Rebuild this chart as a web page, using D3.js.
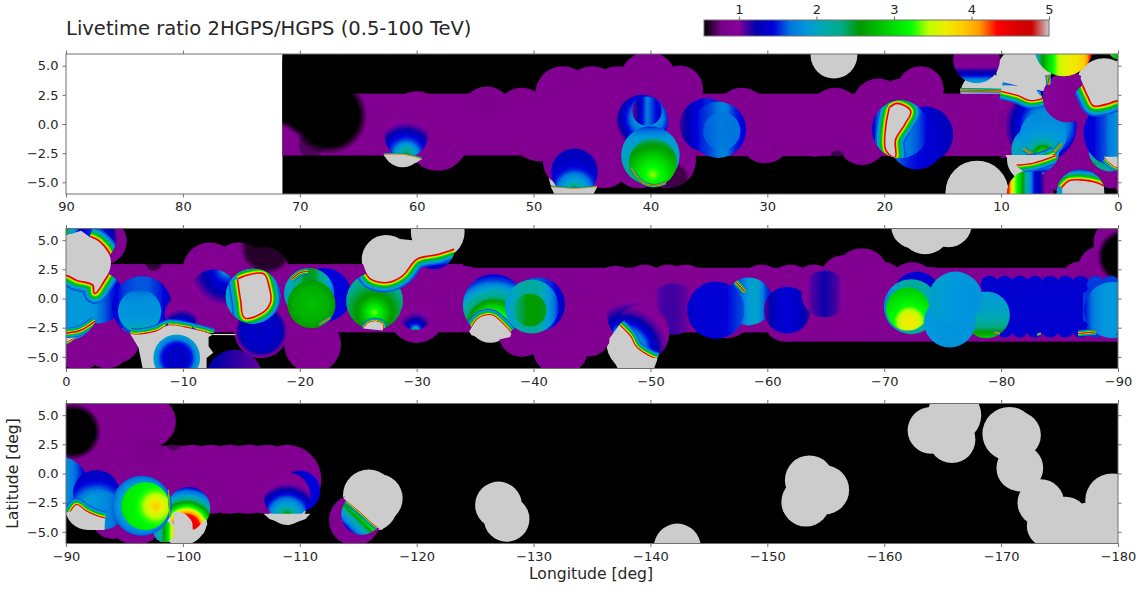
<!DOCTYPE html>
<html>
<head>
<meta charset="utf-8">
<title>Livetime ratio</title>
<script src="https://cdn.jsdelivr.net/npm/d3@7"></script>
<style>
	html, body { margin: 0; padding: 0; background: #fff; }
	text { font-family: "DejaVu Sans"; fill: #262626; }
</style>
</head>
<body>
<svg id="map" width="1146" height="592"></svg>
<script>
"use strict";

//longitude range of each row, left to right
let panel_ranges = [[90, 0], [0, -90], [-90, -180]];
let lat_range = [-6, 6];
let data_edge = 71.5;
let lat_ticks = [-5, -2.5, 0, 2.5, 5];
let lon_ticks = [
	[90, 80, 70, 60, 50, 40, 30, 20, 10, 0],
	[0, -10, -20, -30, -40, -50, -60, -70, -80, -90],
	[-90, -100, -110, -120, -130, -140, -150, -160, -170, -180]];
let bar_ticks = [1, 2, 3, 4, 5];
let bar_range = [0.55, 5];

//nipy_spectral stops
let cmap_stops = [0, .05, .1, .15, .2, .25, .3, .35, .4, .45, .5, .55, .6, .65, .7, .75, .8, .85, .9, .95, 1];
let cmap_colors = ["#000000", "#770088", "#880099", "#0000aa", "#0000dd", "#0077dd", "#0099dd", "#00aaaa", "#00aa88",
	"#009900", "#00bb00", "#00dd00", "#00ff00", "#bbff00", "#eeee00", "#ffcc00", "#ff9900", "#ff0000", "#dd0000", "#cc0000", "#cccccc"];
let ratio_same = 0.9;

//lon, lat, radius of the fields with no old exposure
let gray_disks = [
	[61.2, -2, 1.7], [46.5, -4.4, 2.2], [24.3, 5.9, 2], [12.06, -5.85, 2.7], [11.5, 2.5, 2], [8.07, 4.34, 2.34], [1.2, 3.2, 2.43],
	[-1.34, 3.34, 2.45], [7.5, -3, 2], [-27.4, 3.34, 2.1], [-31.8, 5.7, 2.3], [-36.3, -2, 1.8], [-30, -2.2, 1.1], [-48.6, -3.86, 2.35],
	[-73.5, 6, 2.2], [-75.5, 6.4, 2], [-72.5, 6.2, 1.9], [-91.9, -2.84, 2], [-99.9, -4, 2.15], [-108.9, -2.7, 1.7],
	[-115.9, -1.86, 2.2], [-116.7, -2.14, 2.1], [-116.3, -2.9, 2], [-127, -2.7, 2], [-127.7, -3.9, 1.95], [-142.3, -6.3, 2],
	[-153.6, -0.56, 2.1], [-154.9, -1.4, 2.1], [-153.3, -2.44, 2.1], [-164, 3.7, 2], [-165.8, 2.9, 2], [-166, 5, 2.3],
	[-170.7, 3.4, 2.3], [-171.4, 3.3, 2], [-171.6, 0.47, 2], [-173.4, -2.5, 2], [-175.5, -4, 2], [-174, -4.5, 1.8], [-177.5, -4.7, 2.2],
	[-179.5, -2.3, 2.3], [-179.5, -5, 2.5], [-176, -5.5, 2]];

//lon start, lon end, lat low, lat high of the survey strip
let purple_bands = [
	[71.5, 36, -2.7, 2.6], [36, 10, -2.75, 2.6], [10, -1, -2.9, 2.6], [-1, -34, -2.9, 2.95], [-34, -61.5, -2.9, 2.63],
	[-61.5, -90, -3.7, 2.63], [-90, -108, -2.9, 2.2], [-90, -97, 2, 6.2]];
let purple_disks = [
	[60, 0.5, 2.3], [58.2, -1.4, 2.6], [54, 1, 2.2], [51, 0.9, 2.2], [49.5, -0.8, 2.4], [47.5, 2.6, 2.35], [45, 2.6, 2.35], [42.8, 2.6, 2.35],
	[40.2, 3.8, 2.4], [37.5, 3, 2], [47, -3.2, 2.2], [44, -3.2, 2.3], [41, -3.2, 2.3], [38.5, -3.1, 2.4], [32.2, 0.9, 2.2], [24.2, 0.9, 2.2],
	[30.2, -1.1, 2.25], [26, -0.9, 1.9], [21.9, -1.3, 2.2], [20.5, 1.7, 2.2], [16.9, 2.95, 2], [18.5, 1.9, 2], [14.8, 0.5, 2.1],
	[3.5, 0, 2.2], [3, -2, 2.2], [4.5, -4, 1.9], [2.5, -3.5, 2], [0.5, -3.5, 2], [-3.2, 4.9, 2], [-3.5, -4, 2], [-1.2, -4.3, 1.9], [-4.4, -3.6, 1.9],
	[-12.3, 2.5, 2.3], [-14.8, 2.5, 2.3], [-17, 2.3, 2.1], [-21.1, -3.95, 2.43], [-30, -1.4, 2.4], [-34, 0.6, 2.2], [-39, -3, 2], [-42.3, -4.2, 2.4],
	[-44.8, -3.2, 1.75], [-46.2, -2.2, 1.7], [-47, 0.8, 2], [-49.5, 0.9, 2], [-51.5, 0.9, 2], [-53, 0.9, 2], [-56.5, -1, 2.4], [-59.5, 1, 1.9],
	[-61.5, -1.9, 1.8], [-62, 0.9, 2], [-64, 0.9, 2], [-66.5, 1.7, 2], [-68.1, 2, 2.3], [-70, 1.5, 1.6], [-72.4, 0.9, 2.2], [-74, 0.7, 2], [-86.8, 1.5, 1.7],
	[-88.5, 2.6, 1.9], [-89.9, 4.8, 2], [-97.2, 4.44, 2.2], [-96, -3.5, 2.6], [-94, -3.7, 1.9],
	[-96, -0.5, 2.95], [-97.6, -0.5, 2.95], [-99.2, -0.5, 2.95], [-100.8, -0.5, 2.95], [-102.4, -0.5, 2.95], [-104, -0.5, 2.95],
	[-105.6, -0.5, 2.95], [-107.2, -0.5, 2.95], [-108.9, -0.5, 2.95], [-114.7, -4, 2.2]];

//lon, lat, radius, strength of the soft low exposure patches
let dark_patches = [
	[67.5, 0.7, 3.3, 1], [71.5, 2.9, 3.2, 1], [69.5, 1.6, 2.6, 1], [69, -1.8, 1.2, 0.4], [54, 1.9, 1.2, 0.05], [24, -2.9, 0.7, 0.5], [38, -4.6, 1.3, 0.5],
	[-7.5, 3.1, 0.8, 0.6], [-17.2, 4.4, 2.3, 0.7], [-90.6, 3.6, 2.4, 1], [-97, 2, 1.5, 0.05], [-99.2, 2.6, 0.7, 0.4]];

//lon start, lon end, lat low, lat high, ratio of the blue strip
let tint_bands = [[-78.5, -87, -2.7, 1.3, 1.38], [-87, -90, -2.7, 1.3, 1.55]];
//lon, lat of the tiles on that strip, the outer rows give the scalloped edge
let tint_tiles = [
	[-79, 1.2], [-80.3, 1.2], [-81.6, 1.2], [-82.9, 1.2], [-84.2, 1.2], [-85.5, 1.2], [-86.8, 1.2], [-88.1, 1.2], [-89.4, 1.2],
	[-79, -2.6], [-80.3, -2.6], [-81.6, -2.6], [-82.9, -2.6], [-84.2, -2.6], [-85.5, -2.6], [-86.8, -2.6], [-88.1, -2.6], [-89.4, -2.6]];
let light_tiles = [
	[-80.8, -0.8], [-82.4, -1.6], [-84, -0.7], [-85.6, -1.7], [-82.6, 0.1], [-85.6, 0.6], [-87.6, 0.4], [-81.6, -2.2], [-83.4, -2.4], [-85.2, -2.2]];

//lon, lat, radius, gradient angle (null is radial), ratios along the gradient, radial centre and reach
let ratio_disks = [
	[60.9, -1, 1.85, null, [2.6, 2.1, 1.6, 1.35, 1.1, 0.92, 0.9], [0.5, 0.95, 1]],
	[46.5, -4.1, 2, null, [3, 2.1, 1.8, 1.5, 1.35, 1.3, 1.3], [0.5, 0.9, 0.9]],
	[40.7, 0.3, 2.2, null, [1.95, 1.9, 1.7, 1.4, 1.1, 0.95], [0.6, 0.45, 0.75]],
	[40.3, 1.1, 1.25, 0, [1, 1.3, 1.7, 1.5, 1.3]],
	[40, -2.7, 2.5, 90, [1.5, 1.9, 2, 2, 2.2, 2.4]],
	[39.8, -3.3, 2.05, null, [3.4, 3.2, 3, 2.75, 2.5, 2.3], [0.5, 0.75, 0.8]],
	[35.2, -0.1, 2.3, 0, [1.1, 1.35, 1.5, 1.5, 1.5]],
	[34.2, -0.5, 2.4, 0, [1.35, 1.5, 1.6, 1.75, 1.5, 1.4]],
	[33.9, -0.6, 1.6, 0, [1.6, 1.68, 1.65]],
	[16.5, -0.9, 2.4, 0, [1.9, 1.5, 1.4, 1.3, 1.3]],
	[17.2, -1.6, 2.3, 0, [1.7, 1.5, 1.4, 1.35]],
	[18.6, -0.45, 2.45, 0, [1.3, 1.9, 1.9, 1.7, 1.6, 1.4]],
	[12.1, 5.5, 2, 90, [0.9, 0.9, 0.9, 0.9, 1.3, 2]],
	[6.6, -0.2, 3.05, null, [1.9, 1.85, 1.7, 1.4, 1.1, 0.92], [0.6, 0.5, 0.7]],
	[7.07, -2.23, 2.05, 90, [1.4, 1.8, 2, 2, 1.8, 1.4]],
	[6.4, -0.95, 2, null, [3.5, 2.8, 2.1, 1.9, 1.85, 1.8], [0.5, 0.95, 0.8]],
	[4.3, 2.3, 2.15, 0, [1, 0.9, 0.9]],
	[7.5, -5.95, 2, 0, [4.6, 3.5, 2.9, 2.1, 1.5, 1.2, 0.95, 0.9]],
	[3.2, -5.95, 2.05, 90, [1.5, 1.9, 2, 2, 2]],
	[-2.34, 5.2, 2, 0, [1.3, 1.4, 1.5, 1.6, 1.4, 1.1]],
	[0.66, -2.2, 1.86, 90, [1.7, 1.5, 1.6, 1.9, 2.4, 2.1]],
	[-2.77, 0.06, 2.2, 0, [1.9, 1.9, 1.7, 1.5, 1.35]],
	[0.1, -0.8, 2.85, 0, [1.4, 1.45, 1.6, 1.85, 1.9, 1.9, 1.8]],
	[-6.5, -0.66, 2.57, 0, [1.35, 1.55, 1.6, 1.6, 1.5, 1.25]],
	[-6.3, -1.1, 1.85, 90, [1.6, 1.8, 1.85, 1.85, 1.95, 2.3]],
	[-9.9, -1.3, 1.45, null, [2.2, 1.7, 1.35, 1.1, 0.92, 0.9], [0.5, 1, 0.9]],
	[-12.6, 0.48, 2, null, [2.1, 1.6, 1.4, 1.25, 1.1, 0.95, 0.9], [0.8, 0, 1]],
	[-16.7, -2.8, 2.3, null, [1.3, 1.35, 1.35, 1.3, 0.95], [0.5, 0.5, 0.5]],
	[-16, 0.2, 2.35, 0, [2, 1.9, 1.9, 1.9, 2, 2]],
	[-22.1, 0.3, 2.3, 0, [1.3, 1.45, 1.45, 1.45, 1.4]],
	[-20.8, 0.45, 2.15, 0, [2, 2.1, 2.5, 2.5, 2.2, 1.6]],
	[-21, -0.5, 2.05, null, [2.8, 2.75, 2.7, 2.55], [0.5, 0.5, 0.5]],
	[-26.4, -0.23, 2.43, null, [3.4, 3, 2.6, 2.45, 2.3, 2.1, 1.6, 1.3], [0.5, 0.7, 1]],
	[-31.5, 4.2, 1.7, 90, [1.2, 1.3, 1.5, 1.8, 1.6, 1.3]],
	[-29.9, -1.4, 1.3, null, [2.6, 1.6, 1.3, 1.1, 1, 0.92, 0.9], [0.5, 1, 0.9]],
	[-36.6, -0.57, 2.65, null, [4.4, 3.8, 3.2, 2.8, 2.3, 2, 1.6, 1.4], [0.5, 0.85, 0.85]],
	[-40.4, -0.5, 2.3, 0, [1.6, 1.6, 1.6, 1.5, 1.3]],
	[-39.85, -0.7, 2.3, 0, [1.9, 2.05, 2.2, 2.2, 1.9, 1.5]],
	[-39.7, -1, 1.4, 0, [2.3, 2.6, 2.5]],
	[-52, -0.9, 2.2, 0, [0.9, 1.1, 1.12, 1.05, 0.9]],
	[-48.5, -1.5, 2.2, null, [2, 1.7, 1.5, 1.3, 1.1, 0.95, 0.9], [0.45, 1, 1]],
	[-49.2, -3, 2.4, null, [2.6, 2.2, 1.8, 1.4, 1.1, 0.95, 0.9], [0.2, 0.8, 1]],
	[-58.4, -0.25, 2.05, 0, [1.4, 1.5, 1.6, 1.9, 2, 1.6, 1.4]],
	[-55.6, -1, 2.45, 0, [1.35, 1.4, 1.4, 1.4, 1.5, 1.6]],
	[-61.7, -1, 2, 0, [1.05, 1.3, 1.4, 1.4, 1.3, 1.1]],
	[-64.9, 0.4, 2, 0, [0.9, 1.1, 1.2, 1.1, 0.9]],
	[-72.8, 0.3, 2, 0, [1.4, 1.4, 1.4]],
	[-72.3, -0.7, 2.35, 0, [1.7, 1.95, 2.2, 2.2, 2.1, 2]],
	[-72, -0.9, 1.85, null, [3.7, 3.65, 3.5, 3.2, 3.1, 3, 2.9], [0.55, 0.8, 0.75]],
	[-78.75, -1.4, 2, 90, [1.9, 1.95, 2, 2.1, 2.4, 2.9]],
	[-75.6, -2, 2.2, 0, [1.9, 1.85, 1.85, 1.85]],
	[-76.1, 0, 2.3, 0, [2, 1.9, 1.85, 1.85]],
	[-89.5, -1, 2.4, 0, [1.45, 1.75, 1.9, 1.85, 1.6, 1.3]],
	[-92.6, -1.7, 2, null, [3.4, 2.5, 2, 1.7, 1.5, 1.35, 1.3], [0.5, 0.9, 0.9]],
	[-93.3, -3.2, 1.6, 0, [1.9, 1.8, 1.5]],
	[-100.5, -3, 1.85, null, [4.6, 4.5, 4.3, 3.3, 2.4, 1.8, 1.4], [0.45, 0.95, 0.95]],
	[-98.4, -5, 0.9, 0, [1.9, 2.2, 3, 4]],
	[-96.48, -2.76, 2.57, null, [2.9, 3, 2.5, 1.9, 1.6], [0.5, 0.5, 0.5]],
	[-96.8, -2.8, 2.05, null, [3.9, 3.6, 3.3, 3.15, 3.1, 3], [0.72, 0.5, 0.8]],
	[-110, -1.5, 1.75, 0, [1.1, 1.3, 1.4, 1.45]],
	[-108.9, -1.9, 2, null, [2.9, 2.2, 1.8, 1.4, 1.05, 0.92, 0.9], [0.5, 0.95, 1]],
	[-115.3, -3.5, 1.75, 135, [4.6, 4.6, 4.6, 4.3, 3, 2.2, 1.8, 1.4]]];

//drawn over the fronts below
let top_disks = [
	[4.65, 6.6, 2.5, 0, [1.9, 2.6, 3.1, 3.5, 3.65, 3.7, 3.9, 4.5]],
	[-0.2, 6.6, 1.1, 0, [3.5, 2.8, 1.9, 1.5]],
	[-9.47, -5.09, 2, null, [1.4, 1.3, 1.5, 2], [0.5, 0.5, 0.5]],
	[-14.4, -6.8, 2.4, 0, [1.25, 1.15, 1.05]]];

//steep edges: band scale, clip disks, edge points, points that close the no exposure hole
let fronts = [
	[0.1, null, [[62.8, -2.65], [61, -2.65], [59.6, -3]], [[60, -3.3], [61.2, -3.65], [62.4, -3.2]]],
	[0.08, null, [[48.5, -5.4], [46.5, -5.55], [44.6, -5.4]], [[45, -6.3], [48.1, -6.3]]],
	[0.1, null, [[41.6, -3.8], [40.8, -4.9], [39.8, -5.3], [38.7, -5.05]], null],
	[0.6, [[18.6, -0.45, 2.45]], [[19.5, 1.37], [18.9, 1.7], [17.8, 1.1], [18.3, 0], [19.1, -1.35], [19.1, -2.8], [19.8, -2.2], [19.8, -0.2], [19.5, 1.37]], []],
	[0.12, null, [[13.5, 2.9], [10, 2.85]], null],
	[0.5, null, [[10, 2.85], [8.6, 2.5], [7.5, 2.06], [6.5, 2.2]], [[7.2, 3.2], [9, 3.3], [10, 3.3]]],
	[0.15, null, [[6, 4.2], [5.9, 3.4]], null],
	[0.14, null, [[8.07, -2.1], [6.36, -2.95], [4.8, -1.66]], null],
	[0.5, [[7.07, -2.23, 2.05]], [[9.07, -3.5], [7.2, -3.29], [5.36, -2.66]], [[9.64, -2.66]]],
	[0.65, [[3.2, -5.95, 2.05]], [[4.77, -5.5], [4.2, -4.95], [3.2, -4.86], [1.8, -5.1], [1.2, -5.4]], [[1.2, -6.1], [4.77, -6.1]]],
	[0.25, [[0.66, -2.2, 1.86]], [[1.08, -2.95], [0.09, -3.7], [-0.77, -3.3]], [[0, -2.8], [1.2, -2.8]]],
	[0.3, [[0.1, -0.8, 2.85]], [[0, -2.95], [-1.2, -2.75], [-2.48, -1.95]], null],
	[0.65, [[0.1, -0.8, 2.85], [-2.77, 0.06, 2.2], [-2.34, 5.2, 2], [1.5, 1.2, 2.6]],
		[[3.2, 3.9], [2.5, 2.34], [2.08, 1.63], [0.94, 1.77], [0, 2.05], [-0.9, 1.63], [-2.34, 1.2], [-2.48, 0.5], [-3.2, 1.5],
		[-3.76, 2.5], [-3.76, 3.6], [-2.76, 4.9], [-2.05, 5.25]], [[-1.3, 5.8], [0.5, 5.3], [2, 5.3], [3, 4.7]]],
	[0.25, [[-6.5, -0.66, 2.57]], [[-4.6, -2.8], [-6.05, -4.09]], null],
	[0.35, [[-6.5, -0.66, 2.57], [-9.9, -1.3, 1.45], [-12.6, 0.48, 3.4]], [[-5.5, -3.05], [-6.2, -3.09], [-7.76, -2.8], [-8.75, -2.32], [-10.6, -2.57], [-12.6, -3.09]],
		[[-12.2, -3.3], [-12.2, -4.1], [-12.6, -4.66], [-12.03, -5.1], [-12.03, -6.2], [-6.6, -6.2], [-6.2, -4.2]]],
	[0.6, [[-16, 0.2, 2.35]], [[-14.74, 1.63], [-15.45, 1.91], [-16.88, 2.05], [-17.3, 1.05], [-17.45, -0.23], [-16.88, -1.09], [-15.31, -1.6],
		[-15.02, -0.23], [-14.88, 0.63], [-14.74, 1.63]], []],
	[0.2, [[-20.8, 0.45, 2.15]], [[-19.3, 1.63], [-20, 2.2], [-20.7, 2.34]], null],
	[0.1, null, [[-21.7, -2.2], [-22.6, -1.66]], null],
	[0.2, [[-26.4, -0.23, 2.43]], [[-25.43, -2.57], [-25.86, -2.1], [-26.43, -1.95], [-27.1, -2.23], [-27.1, -2.75]], []],
	[0.6, [[-26.4, -0.23, 2.43], [-31.5, 4.2, 1.7], [-28.8, 2.2, 2.1]], [[-25.6, 2.43], [-26.1, 1.71], [-27.5, 1.43], [-28.75, 2], [-30, 3.43], [-31.9, 3.86], [-33.6, 4.43]],
		[[-34, 5.2], [-32, 6.5], [-30, 6.4], [-29.6, 5], [-28.6, 5.1], [-26.6, 5.3], [-25.5, 4.2], [-25.4, 3]]],
	[0.35, [[-36.6, -0.57, 2.65]], [[-34.5, -2.86], [-35.3, -1.7], [-36.4, -1.43], [-37.5, -2.3], [-38.1, -3]], [[-38, -3.3], [-36.4, -3.66], [-34.7, -3.14]]],
	[0.4, [[-48.5, -1.5, 2.2], [-49.2, -3, 2.4]], [[-47.34, -2.29], [-48.3, -3.29], [-48.75, -4.14], [-50, -5], [-50.6, -5.2]],
		[[-50.2, -6.3], [-47.4, -6.3], [-46.4, -4.6], [-46.5, -3.4]]],
	[0.2, [[-58.4, -0.25, 2.05]], [[-57.3, 1.43], [-58.1, 0.57]], null],
	[0.18, null, [[-86.6, -3], [-88.1, -2.86]], null],
	[0.08, null, [[-83.1, -3.1], [-83.4, -3]], null],
	[0.1, null, [[-79.4, -2.9], [-79.9, -3]], null],
	[0.4, [[-92.6, -1.7, 2], [-93.3, -3.2, 1.6], [-89.5, -1, 2.4]], [[-90.35, -3.4], [-90.9, -2.7], [-91.77, -3.27], [-92.77, -3.7], [-93.34, -3.84]],
		[[-93.3, -4.85], [-91.9, -4.85], [-90.6, -4]]],
	[0.04, null, [[-98.76, -1.4], [-98.9, -3.7]], null],
	[0, null, [[-99.2, -3.27], [-100.06, -3.41], [-100.77, -4.13], [-100.9, -4.84], [-101.47, -4.41], [-101.95, -3.93]],
		[[-102.1, -4.3], [-101.8, -5.1], [-100.9, -5.85], [-99.2, -5.85]]],
	[0, null, [[-106.9, -3.45], [-110.9, -3.45]], [[-110.5, -3.9], [-109, -4.43], [-107.4, -3.9]]],
	[0.2, [[-115.3, -3.5, 1.75]], [[-113.75, -2.14], [-115.16, -3.29], [-116.25, -4.29], [-117, -4.86]], [[-117.7, -3.9], [-117.5, -2], [-115.5, -1.5], [-114.1, -1.6]]]];

//thin white seams at the edge of the strip
let white_edges = [[[-12.6, -3.09], [-14.5, -3.1]]];

//ratio and half width in degrees of each nested stroke of a front, widest first
let front_ratios = [1.6, 1.9, 2.1, 2.4, 2.8, 3.2, 3.6, 4, 4.4, 4.7];
let front_widths = [1.5, 1.25, 1, 0.85, 0.7, 0.55, 0.42, 0.34, 0.22, 0.08];

let svg = d3.select("svg#map");
let defs = svg.append("defs");

let panel_left = 66, panel_right = 1118, panel_height = 140;
let panel_tops = [54, 228.5, 403.5];
let px_per_deg = (panel_right - panel_left) / 90;
let axis_color = "#707070", text_color = "#262626";

//ratio to colour
let frac = d3.scaleLinear().domain(bar_range).range([0, 1]).clamp(true);
let cmap_frac = d3.scaleLinear().domain(cmap_stops).range(cmap_colors).interpolate(d3.interpolateRgb);
function cmap(v) { return cmap_frac(frac(v)); }

svg.append("filter").attr("id", "soft")
	.attr("x", "-2%").attr("y", "-5%").attr("width", "104%").attr("height", "110%")
	.append("feGaussianBlur").attr("stdDeviation", 0.55);

//one gradient per disk, each step split so it follows the colour table
function add_gradient(id, disk)
{
	let angle = disk[3], vals = disk[4], grad;
	if (angle === null)
	{
		let centre = disk[5];
		grad = defs.append("radialGradient").attr("id", id)
			.attr("cx", centre[0]).attr("cy", centre[1]).attr("r", centre[2])
			.attr("fx", centre[0]).attr("fy", centre[1]);
	}
	else
	{
		let a = angle * Math.PI / 180;
		grad = defs.append("linearGradient").attr("id", id)
			.attr("x1", 0.5 - Math.cos(a) / 2).attr("y1", 0.5 - Math.sin(a) / 2)
			.attr("x2", 0.5 + Math.cos(a) / 2).attr("y2", 0.5 + Math.sin(a) / 2);
	}
	let n = Math.max(vals.length - 1, 1);
	for (let i = 0; i < vals.length; ++i)
	{
		for (let j = 0; j < 6; ++j)
		{
			if (i === n && j > 0) break;
			let next = vals[Math.min(i + 1, n)];
			grad.append("stop")
				.attr("offset", (i + j / 6) / n)
				.attr("stop-color", cmap(vals[i] + (next - vals[i]) * j / 6));
		}
	}
}
ratio_disks.forEach(function(d, i) { add_gradient("ratio" + i, d); });
top_disks.forEach(function(d, i) { add_gradient("top" + i, d); });

dark_patches.forEach(function(d, i)
{
	let grad = defs.append("radialGradient").attr("id", "dark" + i);
	grad.append("stop").attr("offset", 0).attr("stop-color", "#000").attr("stop-opacity", d[3]);
	grad.append("stop").attr("offset", 0.78).attr("stop-color", "#000").attr("stop-opacity", d[3]);
	grad.append("stop").attr("offset", 1).attr("stop-color", "#000").attr("stop-opacity", 0);
});

function draw_panel(index)
{
	let range = panel_ranges[index], top = panel_tops[index];
	let x = d3.scaleLinear().domain(range).range([panel_left, panel_right]);
	let y = d3.scaleLinear().domain(lat_range).range([top + panel_height, top]);
	let line_func = d3.line().x(function(d) { return x(d[0]); }).y(function(d) { return y(d[1]); });
	let front_func = d3.line().x(function(d) { return x(d[0]); }).y(function(d) { return y(d[1]); }).curve(d3.curveCatmullRom);

	//the first row has no data left of the survey edge
	let left = index === 0 ? x(data_edge) : panel_left;
	defs.append("clipPath").attr("id", "panel" + index)
		.append("rect")
		.attr("x", left).attr("y", top)
		.attr("width", panel_right - left).attr("height", panel_height);

	let holder = svg.append("g").attr("clip-path", "url(#panel" + index + ")");
	holder.append("rect")
		.attr("x", left).attr("y", top)
		.attr("width", panel_right - left).attr("height", panel_height)
		.attr("fill", "#000");
	let map = holder.append("g").attr("filter", "url(#soft)");

	function add_disks(rows, fill)
	{
		map.append("g").selectAll("circle").data(rows).join("circle")
			.attr("cx", function(d) { return x(d[0]); })
			.attr("cy", function(d) { return y(d[1]); })
			.attr("r", function(d) { return d[2] * px_per_deg; })
			.attr("fill", fill);
	}

	add_disks(gray_disks, cmap(5));

	map.append("g").selectAll("rect").data(purple_bands).join("rect")
		.attr("x", function(d) { return x(d[0]); })
		.attr("y", function(d) { return y(d[3]); })
		.attr("width", function(d) { return x(d[1]) - x(d[0]); })
		.attr("height", function(d) { return y(d[2]) - y(d[3]); })
		.attr("fill", cmap(ratio_same));
	add_disks(purple_disks, cmap(ratio_same));
	add_disks(dark_patches, function(d, i) { return "url(#dark" + i + ")"; });

	map.append("g").selectAll("rect").data(tint_bands).join("rect")
		.attr("x", function(d) { return x(d[0]); })
		.attr("y", function(d) { return y(d[3]); })
		.attr("width", function(d) { return x(d[1]) - x(d[0]); })
		.attr("height", function(d) { return y(d[2]) - y(d[3]); })
		.attr("fill", function(d) { return cmap(d[4]); });
	map.append("g").selectAll("circle").data(tint_tiles).join("circle")
		.attr("cx", function(d) { return x(d[0]); })
		.attr("cy", function(d) { return y(d[1]); })
		.attr("r", 0.75 * px_per_deg)
		.attr("fill", function(d) { return cmap(d[0] < -87 ? 1.55 : 1.38); });
	map.append("g").attr("opacity", 0.2).selectAll("circle").data(light_tiles).join("circle")
		.attr("cx", function(d) { return x(d[0]); })
		.attr("cy", function(d) { return y(d[1]); })
		.attr("r", 0.7 * px_per_deg)
		.attr("fill", cmap(1.5));

	add_disks(ratio_disks, function(d, i) { return "url(#ratio" + i + ")"; });

	//fronts: nested strokes from blue to red, then the hole itself
	fronts.forEach(function(front, i)
	{
		let scale = front[0], clip = front[1], points = front[2], cap = front[3];
		let group = map.append("g")
			.attr("fill", "none")
			.attr("stroke-linecap", "butt")
			.attr("stroke-linejoin", "round");
		if (clip)
		{
			let id = "front" + index + "_" + i;
			defs.append("clipPath").attr("id", id)
				.selectAll("circle").data(clip).join("circle")
				.attr("cx", function(d) { return x(d[0]); })
				.attr("cy", function(d) { return y(d[1]); })
				.attr("r", function(d) { return d[2] * px_per_deg; });
			group.attr("clip-path", "url(#" + id + ")");
		}
		if (scale > 0)
		{
			front_ratios.forEach(function(v, k)
			{
				group.append("path")
					.attr("d", front_func(points))
					.attr("stroke", cmap(v))
					.attr("stroke-width", 2 * front_widths[k] * scale * px_per_deg);
			});
		}
		if (cap)
		{
			map.append("path")
				.attr("d", front_func(points) + line_func(cap.length ? cap : [points[0]]).replace("M", "L") + "Z")
				.attr("fill", cmap(5));
		}
	});

	map.append("g").selectAll("path").data(white_edges).join("path")
		.attr("d", line_func)
		.attr("fill", "none")
		.attr("stroke", "#fff")
		.attr("stroke-width", 1);

	add_disks(top_disks, function(d, i) { return "url(#top" + i + ")"; });

	//frame and ticks
	let axes = svg.append("g");
	axes.append("rect")
		.attr("x", panel_left).attr("y", top)
		.attr("width", panel_right - panel_left).attr("height", panel_height)
		.attr("fill", "none")
		.attr("stroke", axis_color)
		.attr("stroke-width", 1);

	let bottom = axes.append("g").attr("transform", "translate(0," + (top + panel_height) + ")")
		.call(d3.axisBottom(x).tickValues(lon_ticks[index]).tickFormat(d3.format("d")).tickSize(3.5).tickPadding(4.5));
	let upper = axes.append("g").attr("transform", "translate(0," + top + ")")
		.call(d3.axisTop(x).tickValues(lon_ticks[index]).tickFormat("").tickSize(3.5));
	let side = axes.append("g").attr("transform", "translate(" + panel_left + ",0)")
		.call(d3.axisLeft(y).tickValues(lat_ticks).tickFormat(d3.format(".1f")).tickSize(3.5).tickPadding(4));
	let other = axes.append("g").attr("transform", "translate(" + panel_right + ",0)")
		.call(d3.axisRight(y).tickValues(lat_ticks).tickFormat("").tickSize(3.5));

	for (let axis of [bottom, upper, side, other])
	{
		axis.select(".domain").remove();
		axis.selectAll("line").attr("stroke", axis_color);
		axis.selectAll("text")
			.attr("font-family", "DejaVu Sans")
			.attr("font-size", 13)
			.attr("fill", text_color);
	}
}

for (let i = 0; i < panel_ranges.length; ++i) draw_panel(i);

//colour bar
let bar_left = 704, bar_right = 1049, bar_top = 20, bar_bottom = 36;
let bar_x = d3.scaleLinear().domain(bar_range).range([bar_left, bar_right]);
let bar_grad = defs.append("linearGradient").attr("id", "bar");
cmap_stops.forEach(function(s, i)
{
	bar_grad.append("stop").attr("offset", s).attr("stop-color", cmap_colors[i]);
});
svg.append("rect")
	.attr("x", bar_left).attr("y", bar_top)
	.attr("width", bar_right - bar_left).attr("height", bar_bottom - bar_top)
	.attr("fill", "url(#bar)")
	.attr("stroke", axis_color)
	.attr("stroke-width", 1);
let bar_axis = svg.append("g").attr("transform", "translate(0," + bar_top + ")")
	.call(d3.axisTop(bar_x).tickValues(bar_ticks).tickFormat(d3.format("d")).tickSize(3.5).tickPadding(3));
bar_axis.select(".domain").remove();
bar_axis.selectAll("line").attr("stroke", axis_color);
bar_axis.selectAll("text")
	.attr("font-family", "DejaVu Sans")
	.attr("font-size", 13)
	.attr("fill", text_color);

//title and axis names
svg.append("text")
	.attr("x", 66).attr("y", 35)
	.attr("font-size", 19.55)
	.text("Livetime ratio 2HGPS/HGPS (0.5-100 TeV)");
svg.append("text")
	.attr("x", 591).attr("y", 579)
	.attr("text-anchor", "middle")
	.attr("font-size", 15.6)
	.text("Longitude [deg]");
svg.append("text")
	.attr("transform", "translate(18,473.5) rotate(-90)")
	.attr("text-anchor", "middle")
	.attr("font-size", 15.6)
	.text("Latitude [deg]");
</script>
</body>
</html>
